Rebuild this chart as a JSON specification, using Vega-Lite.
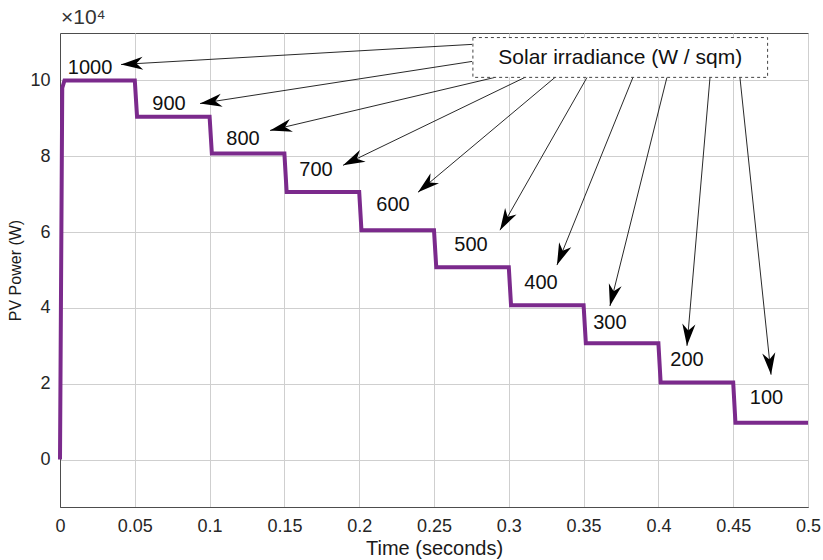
{
  "$schema": "https://vega.github.io/schema/vega-lite/v6.json",
  "autosize": {"type": "none"},
  "padding": {"left": 60, "top": 33, "right": 15, "bottom": 53},
  "width": 748,
  "height": 474,
  "title": {"text": "×10⁴", "anchor": "start", "frame": "group", "fontSize": 21, "fontWeight": "normal", "font": "Liberation Sans", "color": "#333333", "offset": 5, "dx": 1},
  "config": {
    "font": "Liberation Sans",
    "view": {"stroke": "#4d4d4d", "strokeWidth": 1},
    "axis": {
      "labelFont": "Liberation Sans",
      "labelFontSize": 18,
      "labelColor": "#262626",
      "titleFont": "Liberation Sans",
      "titleFontWeight": "normal",
      "titleColor": "#1a1a1a",
      "gridColor": "#cfcfcf",
      "gridWidth": 1,
      "domainColor": "#4d4d4d",
      "ticks": false
    }
  },
  "datasets": {
    "power": [
      {"t": 0.0, "y": 0.0},
      {"t": 0.0015, "y": 9.8},
      {"t": 0.003, "y": 10.0},
      {"t": 0.05, "y": 10.0},
      {"t": 0.0515, "y": 9.04},
      {"t": 0.1, "y": 9.04},
      {"t": 0.1015, "y": 8.07},
      {"t": 0.15, "y": 8.07},
      {"t": 0.1515, "y": 7.06},
      {"t": 0.2, "y": 7.06},
      {"t": 0.2015, "y": 6.05},
      {"t": 0.25, "y": 6.05},
      {"t": 0.2515, "y": 5.07},
      {"t": 0.3, "y": 5.07},
      {"t": 0.3015, "y": 4.07},
      {"t": 0.35, "y": 4.07},
      {"t": 0.3515, "y": 3.07},
      {"t": 0.4, "y": 3.07},
      {"t": 0.4015, "y": 2.03},
      {"t": 0.45, "y": 2.03},
      {"t": 0.4515, "y": 0.97},
      {"t": 0.5, "y": 0.97}
    ],
    "arrows": [
      {"label": "1000", "t0": 0.2754, "y0": 10.95, "t": 0.0408, "y": 10.42},
      {"label": "900", "t0": 0.2754, "y0": 10.5, "t": 0.0936, "y": 9.39},
      {"label": "800", "t0": 0.2908, "y0": 10.08, "t": 0.1404, "y": 8.68},
      {"label": "700", "t0": 0.3108, "y0": 10.08, "t": 0.1892, "y": 7.76},
      {"label": "600", "t0": 0.3309, "y0": 10.08, "t": 0.2393, "y": 7.05},
      {"label": "500", "t0": 0.3523, "y0": 10.08, "t": 0.2941, "y": 6.05},
      {"label": "400", "t0": 0.383, "y0": 10.08, "t": 0.3322, "y": 5.13},
      {"label": "300", "t0": 0.4057, "y0": 10.08, "t": 0.3676, "y": 4.05},
      {"label": "200", "t0": 0.4345, "y0": 10.08, "t": 0.4191, "y": 3.0},
      {"label": "100", "t0": 0.4545, "y0": 10.08, "t": 0.4753, "y": 2.24}
    ],
    "labels": [
      {"label": "1000", "t": 0.0201, "y": 10.32},
      {"label": "900", "t": 0.0729, "y": 9.38},
      {"label": "800", "t": 0.1223, "y": 8.46},
      {"label": "700", "t": 0.1711, "y": 7.63},
      {"label": "600", "t": 0.2226, "y": 6.72},
      {"label": "500", "t": 0.2747, "y": 5.66},
      {"label": "400", "t": 0.3215, "y": 4.66},
      {"label": "300", "t": 0.3676, "y": 3.59},
      {"label": "200", "t": 0.4191, "y": 2.63},
      {"label": "100", "t": 0.4723, "y": 1.62}
    ],
    "box": [
      {"label": "Solar irradiance (W / sqm)", "t": 0.276, "t2": 0.473, "y": 11.13, "y2": 10.08, "tc": 0.3745, "yc": 10.6}
    ]
  },
  "encoding": {
    "x": {
      "field": "t", "type": "quantitative",
      "scale": {"domain": [0, 0.5], "nice": false, "zero": false},
      "axis": {"title": "Time (seconds)", "titleFontSize": 20, "values": [0, 0.05, 0.1, 0.15, 0.2, 0.25, 0.3, 0.35, 0.4, 0.45, 0.5], "format": "~g", "labelPadding": 10, "titlePadding": 3, "labelFlush": false}
    },
    "y": {
      "field": "y", "type": "quantitative",
      "scale": {"domain": [-1.25, 11.25], "nice": false, "zero": false},
      "axis": {"title": "PV Power (W)", "titleFontSize": 16, "values": [0, 2, 4, 6, 8, 10], "labelPadding": 10, "titlePadding": 6, "labelFlush": false}
    }
  },
  "layer": [
    {
      "data": {"name": "power"},
      "mark": {"type": "line", "color": "#7b2a8c", "strokeWidth": 4, "strokeJoin": "miter"}
    },
    {
      "data": {"name": "arrows"},
      "mark": {"type": "rule", "color": "#111111", "strokeWidth": 0.9},
      "encoding": {"x2": {"field": "t0"}, "y2": {"field": "y0"}}
    },
    {
      "data": {"name": "arrows"},
      "transform": [
        {"calculate": "atan2((datum.t - datum.t0) * 1496, (datum.y - datum.y0) * 37.92) * 180 / PI", "as": "ang"}
      ],
      "mark": {"type": "point", "shape": "M0,0 L0.6,2 L0,1.4 L-0.6,2 Z", "filled": true, "color": "#000000", "size": 480, "opacity": 1, "strokeWidth": 0},
      "encoding": {"angle": {"field": "ang", "type": "quantitative", "scale": null}}
    },
    {
      "data": {"name": "box"},
      "mark": {"type": "rect", "fill": "#ffffff", "stroke": "#444444", "strokeWidth": 1, "strokeDash": [3, 3]},
      "encoding": {"x2": {"field": "t2"}, "y2": {"field": "y2"}}
    },
    {
      "data": {"name": "box"},
      "mark": {"type": "text", "fontSize": 21, "color": "#111111", "align": "center", "baseline": "middle"},
      "encoding": {"x": {"field": "tc", "type": "quantitative"}, "y": {"field": "yc", "type": "quantitative"}, "text": {"field": "label"}}
    },
    {
      "data": {"name": "labels"},
      "mark": {"type": "text", "fontSize": 20, "color": "#111111", "align": "center", "baseline": "middle"},
      "encoding": {"text": {"field": "label"}}
    }
  ]
}
